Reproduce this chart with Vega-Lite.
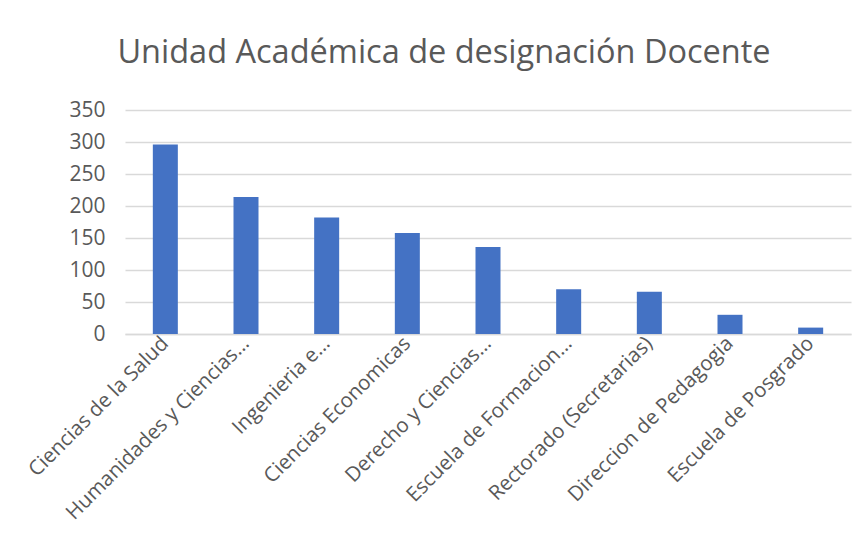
{
  "$schema": "https://vega.github.io/schema/vega-lite/v6.json",
  "autosize": "none",
  "width": 726,
  "height": 224,
  "padding": {"left": 125, "top": 110, "right": 16, "bottom": 212},
  "background": "white",
  "title": {
    "text": "Unidad Académica de designación Docente",
    "font": "Open Sans",
    "fontSize": 32.5,
    "fontWeight": "normal",
    "color": "#595959",
    "anchor": "middle",
    "dx": -44,
    "baseline": "alphabetic",
    "offset": 4
  },
  "data": {
    "values": [
      {"unidad": "Ciencias de la Salud", "docentes": 296},
      {"unidad": "Humanidades y Ciencias…", "docentes": 214},
      {"unidad": "Ingenieria e…", "docentes": 182},
      {"unidad": "Ciencias Economicas", "docentes": 158},
      {"unidad": "Derecho y Ciencias…", "docentes": 136},
      {"unidad": "Escuela de Formacion…", "docentes": 70},
      {"unidad": "Rectorado (Secretarias)", "docentes": 66},
      {"unidad": "Direccion de Pedagogia", "docentes": 30},
      {"unidad": "Escuela de Posgrado", "docentes": 10}
    ]
  },
  "mark": {"type": "bar", "color": "#4472C4"},
  "encoding": {
    "x": {
      "field": "unidad",
      "type": "nominal",
      "sort": null,
      "scale": {"paddingInner": 0.69, "paddingOuter": 0.345},
      "axis": {
        "title": null,
        "labelAngle": -45,
        "labelAlign": "right",
        "labelBaseline": "middle",
        "labelFont": "Open Sans",
        "labelFontSize": 20.5,
        "labelColor": "#595959",
        "labelLimit": 300,
        "labelPadding": 6,
        "ticks": false,
        "domainColor": "#d9d9d9",
        "domainWidth": 1.5
      }
    },
    "y": {
      "field": "docentes",
      "type": "quantitative",
      "scale": {"domain": [0, 350]},
      "axis": {
        "title": null,
        "values": [0, 50, 100, 150, 200, 250, 300, 350],
        "labelFont": "Open Sans",
        "labelFontSize": 21,
        "labelColor": "#595959",
        "labelPadding": 20,
        "ticks": false,
        "domain": false,
        "gridColor": "#d9d9d9",
        "gridWidth": 1.5
      }
    }
  },
  "config": {"view": {"stroke": null}}
}
